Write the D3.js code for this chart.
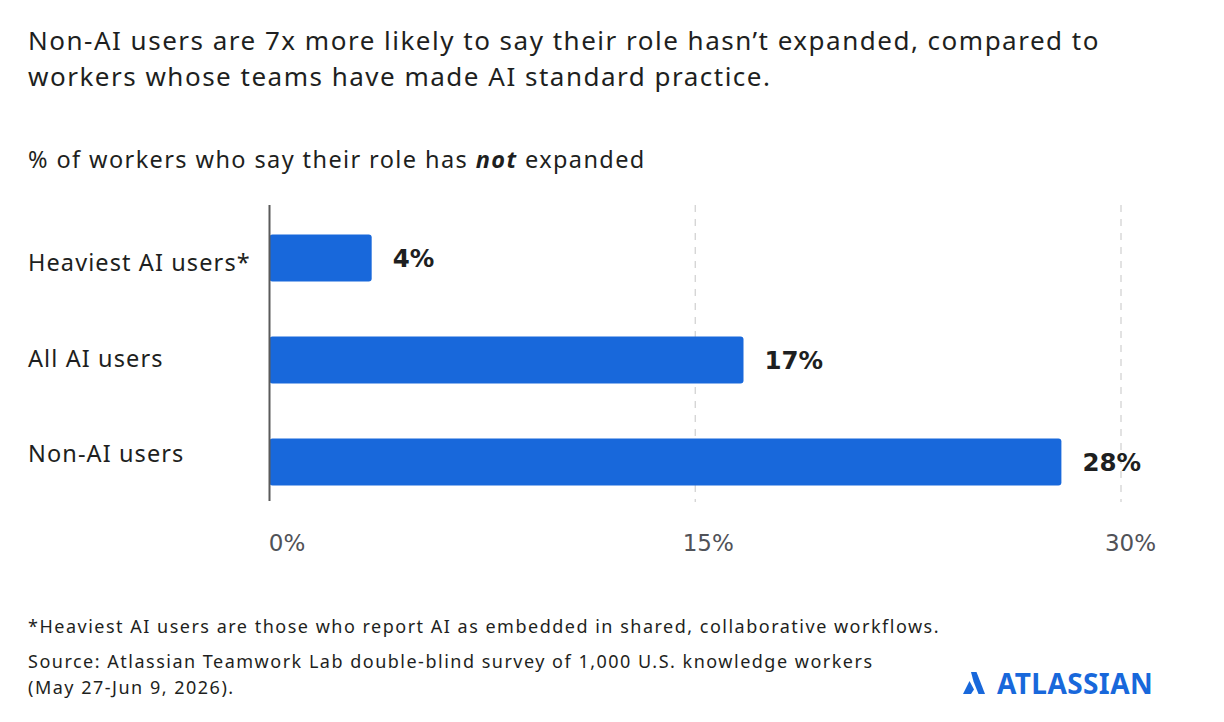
<!DOCTYPE html>
<html>
<head>
<meta charset="utf-8">
<script src="https://cdn.jsdelivr.net/npm/d3@7"></script>
<style>
  body { margin: 0; background: #fff; }
  svg { display: block; font-family: "Noto Sans", sans-serif; }
</style>
</head>
<body>
<div class="chart"></div>
<script>
// data
const categories = ["Heaviest AI users*", "All AI users", "Non-AI users"];
const values = [3.6, 16.7, 27.9];
const valueLabels = ["4%", "17%", "28%"];
const tickValues = [0, 15, 30];
const tickLabels = ["0%", "15%", "30%"];

const width = 1224;
const height = 722;
const ink = "#1e1f21";
const blue = "#1868db";
const numFont = "'DejaVu Sans', sans-serif";

const svg = d3.select('.chart')
    .append('svg')
    .attr('width', width)
    .attr('height', height);

// title
const title = svg.append("text")
    .attr("x", 28)
    .attr("font-size", 26)
    .attr("letter-spacing", 1.5)
    .attr("fill", ink);
title.append("tspan").attr("x", 28).attr("y", 50)
    .text("Non-AI users are 7x more likely to say their role hasn\u2019t expanded, compared to");
title.append("tspan").attr("x", 28).attr("y", 86)
    .text("workers whose teams have made AI standard practice.");

// subtitle
const sub = svg.append("text")
    .attr("x", 28)
    .attr("y", 168)
    .attr("font-size", 23.5)
    .attr("letter-spacing", 1.4)
    .attr("fill", ink);
sub.append("tspan").text("% of workers who say their role has ");
sub.append("tspan").attr("font-weight", "bold").attr("font-style", "italic").text("not");
sub.append("tspan").text(" expanded");

// scales
const x = d3.scaleLinear()
    .domain([0, 30])
    .range([269.5, 1121]);

const y = d3.scaleBand()
    .domain(categories)
    .range([207, 513])
    .paddingInner(0.54)
    .paddingOuter(0.27);

// category labels sit on their own, slightly tighter spacing
const labelY = d3.scalePoint()
    .domain(categories)
    .range([270.7, 462.3]);

// dashed gridlines
svg.selectAll(".grid")
    .data(tickValues.slice(1))
    .enter()
    .append("line")
    .attr("x1", d => x(d))
    .attr("x2", d => x(d))
    .attr("y1", 205)
    .attr("y2", 502)
    .attr("stroke", "#cfcfcf")
    .attr("stroke-width", 1.2)
    .attr("stroke-dasharray", "7,7");

// tick labels
svg.selectAll(".tick")
    .data(tickValues)
    .enter()
    .append("text")
    .text((d, i) => tickLabels[i])
    .attr("x", (d, i) => x(d) + [17.5, 13, 9.5][i])
    .attr("y", 551)
    .attr("text-anchor", "middle")
    .attr("font-family", numFont)
    .attr("font-size", 23)
    .attr("fill", "#505258");

// bars
svg.selectAll(".bar")
    .data(values)
    .enter()
    .append("rect")
    .attr("x", x(0))
    .attr("y", (d, i) => y(categories[i]))
    .attr("width", d => x(d) - x(0))
    .attr("height", y.bandwidth())
    .attr("rx", 3)
    .attr("fill", blue);

// axis line
svg.append("line")
    .attr("x1", x(0))
    .attr("x2", x(0))
    .attr("y1", 205)
    .attr("y2", 501)
    .attr("stroke", "#5a5a5a")
    .attr("stroke-width", 2);

// category labels
svg.selectAll(".cat")
    .data(categories)
    .enter()
    .append("text")
    .text(d => d)
    .attr("x", 28)
    .attr("y", d => labelY(d))
    .attr("font-size", 23.5)
    .attr("letter-spacing", 1.1)
    .attr("fill", ink);

// value labels
svg.selectAll(".val")
    .data(values)
    .enter()
    .append("text")
    .text((d, i) => valueLabels[i])
    .attr("x", d => x(d) + 21)
    .attr("y", (d, i) => y(categories[i]) + y.bandwidth() / 2 + 9)
    .attr("font-family", numFont)
    .attr("font-size", 24.5)
    .attr("font-weight", "bold")
    .attr("fill", ink);

// footnotes
const notes = [
    ["*Heaviest AI users are those who report AI as embedded in shared, collaborative workflows.", 633],
    ["Source: Atlassian Teamwork Lab double-blind survey of 1,000 U.S. knowledge workers", 668],
    ["(May 27-Jun 9, 2026).", 694]
];
svg.selectAll(".note")
    .data(notes)
    .enter()
    .append("text")
    .text(d => d[0])
    .attr("x", 28)
    .attr("y", d => d[1])
    .attr("font-size", 18)
    .attr("letter-spacing", 1.5)
    .attr("fill", ink);

// logo
const logo = svg.append("g").attr("transform", "translate(963,672)");
logo.append("path")
    .attr("d", "M8,0 L13.5,0 L22,22 L15.5,22 L10.5,9.5 Z")
    .attr("fill", blue);
logo.append("path")
    .attr("d", "M6.5,9 L11,17.5 L8,22 L0,22 Z")
    .attr("fill", blue);
logo.append("text")
    .text("ATLASSIAN")
    .attr("x", 34)
    .attr("y", 22)
    .attr("font-size", 28)
    .attr("font-weight", "bold")
    .attr("letter-spacing", 0.4)
    .attr("fill", blue);
</script>
</body>
</html>
